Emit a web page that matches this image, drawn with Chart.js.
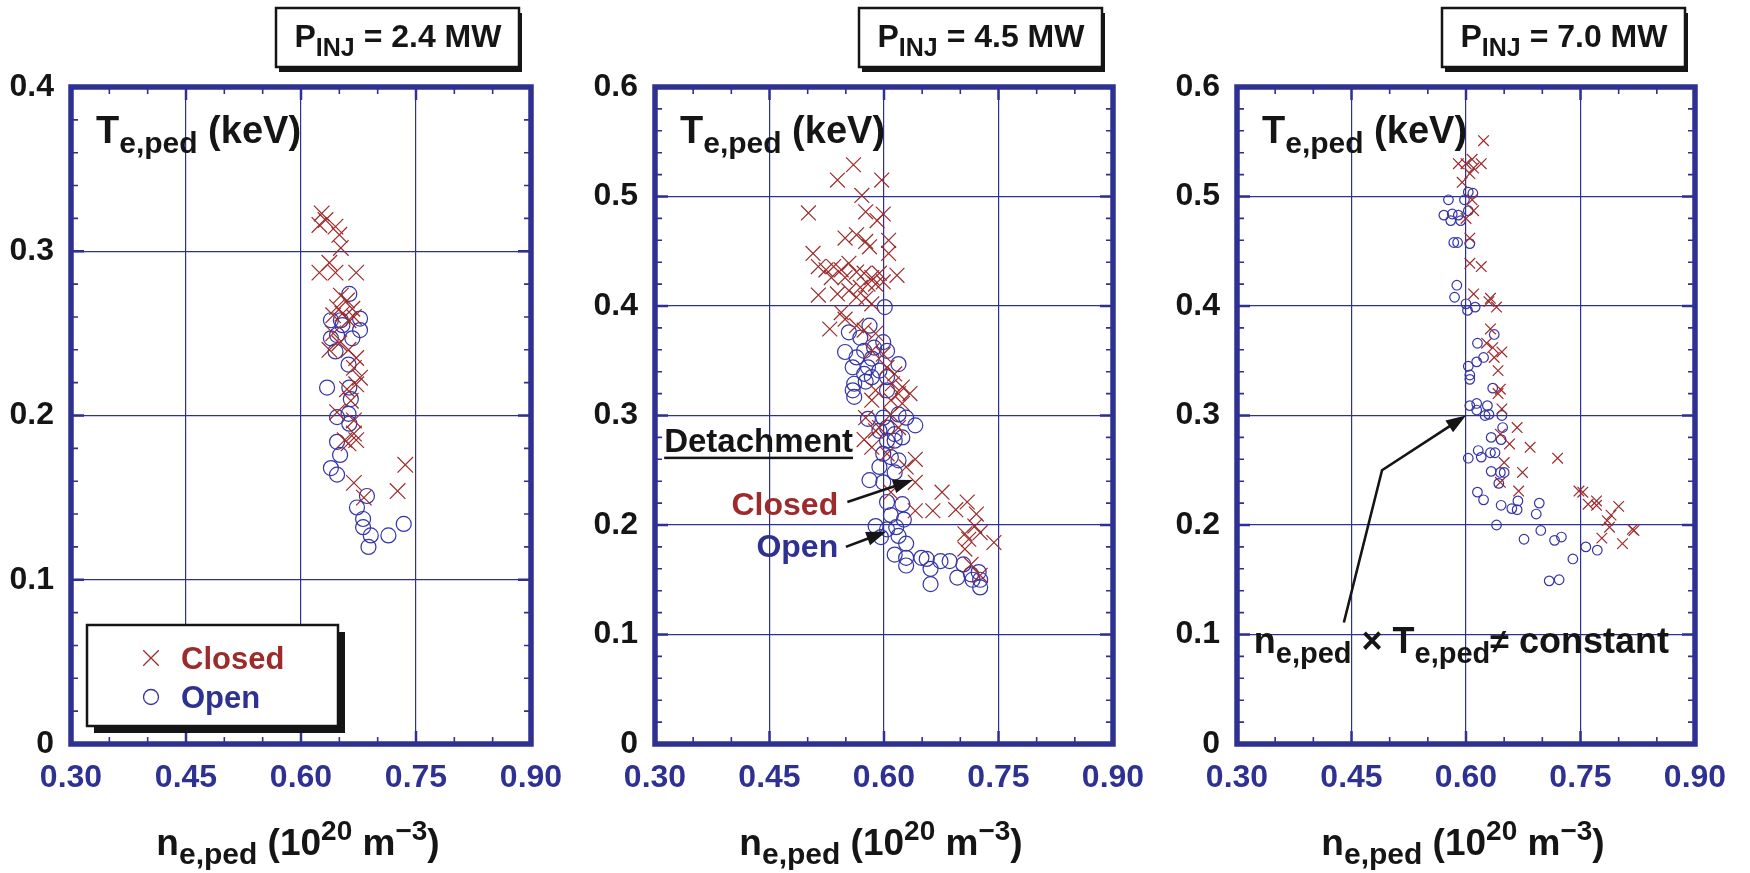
<!DOCTYPE html>
<html>
<head>
<meta charset="utf-8">
<script src="https://cdn.jsdelivr.net/npm/chart.js@4.4.1/dist/chart.umd.min.js"></script>
<style>
  html, body { margin: 0; padding: 0; background: #fff; }
  #wrap { position: relative; width: 1750px; height: 873px; overflow: hidden; }
  canvas { position: absolute; top: 0; }
</style>
</head>
<body>
<div id="wrap">
  <canvas id="c1" width="583" height="873" style="left:0px"></canvas>
  <canvas id="c2" width="583" height="873" style="left:583px"></canvas>
  <canvas id="c3" width="584" height="873" style="left:1166px"></canvas>
</div>
<script>
const FONT = '"Liberation Sans", Arial, Helvetica, sans-serif';
const NAVY = '#2e3192';
const RED = '#9e2b2b';
const BLUE = '#3535a8';
const INK = '#151515';

// injected power of each panel (MW) and y-axis maximum
const powers = ['2.4', '4.5', '7.0'];
const yMaxes = [0.4, 0.6, 0.6];

// [n_e,ped, T_e,ped] pairs
const closed24 = [
    [0.627, 0.323], [0.632, 0.319], [0.624, 0.316], [0.645, 0.315], [0.650, 0.310], [0.652, 0.302],
    [0.637, 0.293], [0.624, 0.287], [0.645, 0.287], [0.672, 0.287], [0.652, 0.273], [0.660, 0.270],
    [0.647, 0.266], [0.667, 0.265], [0.654, 0.262], [0.662, 0.258], [0.642, 0.261], [0.669, 0.260],
    [0.642, 0.250], [0.650, 0.244], [0.637, 0.240], [0.662, 0.240], [0.672, 0.235], [0.669, 0.229],
    [0.677, 0.223], [0.672, 0.219], [0.660, 0.216], [0.665, 0.209], [0.647, 0.202], [0.669, 0.197],
    [0.669, 0.189], [0.662, 0.183], [0.657, 0.185], [0.672, 0.185], [0.669, 0.159], [0.682, 0.150],
    [0.736, 0.170], [0.726, 0.154]
];
const open24 = [
    [0.663, 0.274], [0.677, 0.259], [0.639, 0.258], [0.652, 0.258], [0.654, 0.255], [0.677, 0.252],
    [0.639, 0.247], [0.647, 0.249], [0.667, 0.247], [0.645, 0.239], [0.662, 0.231], [0.634, 0.217],
    [0.663, 0.217], [0.665, 0.210], [0.662, 0.201], [0.647, 0.199], [0.663, 0.195], [0.647, 0.184],
    [0.651, 0.176], [0.639, 0.168], [0.647, 0.164], [0.686, 0.151], [0.673, 0.144], [0.681, 0.137],
    [0.681, 0.132], [0.691, 0.127], [0.688, 0.120], [0.714, 0.127], [0.734, 0.134]
];

const closed45 = [
    [0.560, 0.529], [0.539, 0.515], [0.597, 0.515], [0.501, 0.485], [0.571, 0.501], [0.576, 0.486],
    [0.599, 0.484], [0.591, 0.478], [0.549, 0.462], [0.564, 0.465], [0.576, 0.459], [0.581, 0.454],
    [0.606, 0.460], [0.606, 0.448], [0.507, 0.448], [0.514, 0.436], [0.524, 0.433], [0.534, 0.436],
    [0.544, 0.433], [0.554, 0.439], [0.549, 0.426], [0.531, 0.426], [0.564, 0.431], [0.574, 0.430],
    [0.584, 0.426], [0.594, 0.430], [0.599, 0.422], [0.617, 0.428], [0.579, 0.420], [0.589, 0.420],
    [0.569, 0.417], [0.514, 0.410], [0.539, 0.411], [0.554, 0.414], [0.564, 0.408], [0.584, 0.402],
    [0.576, 0.407], [0.544, 0.394], [0.549, 0.388], [0.529, 0.379], [0.564, 0.382], [0.574, 0.378],
    [0.589, 0.375], [0.584, 0.359], [0.599, 0.356], [0.604, 0.344], [0.614, 0.338], [0.611, 0.329],
    [0.624, 0.326], [0.634, 0.320], [0.619, 0.320], [0.589, 0.323], [0.609, 0.314], [0.624, 0.311],
    [0.584, 0.314], [0.576, 0.298], [0.589, 0.286], [0.609, 0.301], [0.619, 0.289], [0.574, 0.278],
    [0.584, 0.271], [0.594, 0.289], [0.604, 0.265], [0.641, 0.260], [0.629, 0.253], [0.641, 0.239],
    [0.609, 0.230], [0.676, 0.230], [0.641, 0.213], [0.664, 0.213], [0.694, 0.214], [0.709, 0.221],
    [0.721, 0.210], [0.719, 0.199], [0.706, 0.192], [0.711, 0.187], [0.726, 0.193], [0.744, 0.184],
    [0.706, 0.178], [0.714, 0.164], [0.726, 0.154]
];
const open45 = [
    [0.601, 0.399], [0.581, 0.382], [0.554, 0.376], [0.569, 0.371], [0.599, 0.367], [0.549, 0.358],
    [0.574, 0.359], [0.587, 0.362], [0.604, 0.359], [0.564, 0.353], [0.584, 0.352], [0.559, 0.344],
    [0.579, 0.344], [0.594, 0.341], [0.619, 0.347], [0.574, 0.338], [0.584, 0.335], [0.604, 0.335],
    [0.561, 0.329], [0.576, 0.331], [0.559, 0.323], [0.561, 0.317], [0.604, 0.323], [0.579, 0.297],
    [0.599, 0.298], [0.619, 0.301], [0.629, 0.298], [0.641, 0.291], [0.604, 0.289], [0.614, 0.283],
    [0.594, 0.286], [0.624, 0.280], [0.604, 0.277], [0.614, 0.277], [0.599, 0.265], [0.609, 0.262],
    [0.619, 0.259], [0.594, 0.253], [0.614, 0.248], [0.581, 0.241], [0.599, 0.239], [0.604, 0.221],
    [0.624, 0.219], [0.609, 0.209], [0.626, 0.205], [0.589, 0.199], [0.604, 0.196], [0.616, 0.198],
    [0.596, 0.189], [0.619, 0.190], [0.629, 0.183], [0.614, 0.173], [0.629, 0.170], [0.629, 0.163],
    [0.649, 0.170], [0.656, 0.169], [0.661, 0.160], [0.661, 0.146], [0.674, 0.167], [0.686, 0.167],
    [0.704, 0.164], [0.714, 0.155], [0.696, 0.152], [0.724, 0.157], [0.726, 0.150], [0.726, 0.143],
    [0.716, 0.150]
];

const closed70 = [
    [0.623, 0.551], [0.590, 0.530], [0.600, 0.530], [0.608, 0.534], [0.620, 0.530], [0.610, 0.526],
    [0.605, 0.521], [0.595, 0.513], [0.608, 0.497], [0.610, 0.487], [0.600, 0.480], [0.605, 0.462],
    [0.605, 0.439], [0.620, 0.436], [0.610, 0.411], [0.632, 0.407], [0.630, 0.404], [0.640, 0.399],
    [0.632, 0.379], [0.627, 0.366], [0.635, 0.362], [0.647, 0.358], [0.637, 0.353], [0.642, 0.341],
    [0.645, 0.324], [0.642, 0.320], [0.647, 0.306], [0.667, 0.289], [0.645, 0.283], [0.657, 0.274],
    [0.684, 0.271], [0.720, 0.261], [0.650, 0.257], [0.674, 0.248], [0.645, 0.239], [0.669, 0.231],
    [0.748, 0.231], [0.753, 0.230], [0.760, 0.219], [0.771, 0.222], [0.771, 0.218], [0.800, 0.217],
    [0.790, 0.209], [0.785, 0.204], [0.788, 0.198], [0.818, 0.196], [0.820, 0.195], [0.778, 0.188],
    [0.805, 0.183]
];
const open70 = [
    [0.577, 0.497], [0.598, 0.497], [0.603, 0.504], [0.609, 0.503], [0.571, 0.483], [0.582, 0.484],
    [0.590, 0.483], [0.580, 0.478], [0.593, 0.478], [0.603, 0.487], [0.584, 0.458], [0.589, 0.458],
    [0.605, 0.457], [0.588, 0.419], [0.585, 0.408], [0.600, 0.402], [0.602, 0.396], [0.612, 0.399],
    [0.637, 0.374], [0.615, 0.366], [0.623, 0.353], [0.614, 0.349], [0.603, 0.345], [0.605, 0.337],
    [0.605, 0.333], [0.635, 0.325], [0.605, 0.309], [0.614, 0.311], [0.614, 0.305], [0.628, 0.309],
    [0.625, 0.300], [0.630, 0.301], [0.647, 0.300], [0.648, 0.289], [0.633, 0.280], [0.646, 0.278],
    [0.616, 0.268], [0.603, 0.261], [0.620, 0.262], [0.632, 0.266], [0.638, 0.266], [0.633, 0.249],
    [0.645, 0.248], [0.650, 0.248], [0.643, 0.238], [0.615, 0.230], [0.623, 0.223], [0.646, 0.218],
    [0.668, 0.222], [0.660, 0.215], [0.667, 0.214], [0.696, 0.220], [0.692, 0.210], [0.640, 0.200],
    [0.698, 0.195], [0.676, 0.187], [0.716, 0.186], [0.725, 0.189], [0.757, 0.180], [0.772, 0.177],
    [0.740, 0.169], [0.709, 0.149], [0.722, 0.150]
];

const panels = [
    {canvas: 'c1', axisW: 71, padRight: 52, closed: closed24, open: open24, crossR: 11, circleR: 7.5, notes: 'legend'},
    {canvas: 'c2', axisW: 72, padRight: 53, closed: closed45, open: open45, crossR: 10.5, circleR: 7.5, notes: 'detach'},
    {canvas: 'c3', axisW: 71, padRight: 55, closed: closed70, open: open70, crossR: 7.5, circleR: 4.8, notes: 'product'}
];

function font(size) {
    return 'bold ' + size + 'px ' + FONT;
}

// parts: [text, size, dy, color]
function richText(ctx, x, y, parts, align) {
    let w = 0;
    parts.forEach(p => { ctx.font = font(p[1]); w += ctx.measureText(p[0]).width; });
    if (align === 'center') x -= w / 2;
    if (align === 'right') x -= w;
    ctx.textAlign = 'left';
    ctx.textBaseline = 'alphabetic';
    parts.forEach(p => {
        ctx.font = font(p[1]);
        ctx.fillStyle = p[3] || INK;
        ctx.fillText(p[0], x, y + (p[2] || 0));
        x += ctx.measureText(p[0]).width;
    });
    return w;
}

function arrow(ctx, pts) {
    const n = pts.length;
    const [x1, y1] = pts[n - 2], [x2, y2] = pts[n - 1];
    const a = Math.atan2(y2 - y1, x2 - x1);
    const L = 20, W = 7;
    ctx.save();
    ctx.strokeStyle = INK;
    ctx.fillStyle = INK;
    ctx.lineWidth = 2.6;
    ctx.beginPath();
    ctx.moveTo(pts[0][0], pts[0][1]);
    for (let i = 1; i < n - 1; i++) ctx.lineTo(pts[i][0], pts[i][1]);
    ctx.lineTo(x2 - (L - 2) * Math.cos(a), y2 - (L - 2) * Math.sin(a));
    ctx.stroke();
    ctx.beginPath();
    ctx.moveTo(x2, y2);
    ctx.lineTo(x2 - L * Math.cos(a) + W * Math.sin(a), y2 - L * Math.sin(a) - W * Math.cos(a));
    ctx.lineTo(x2 - L * Math.cos(a) - W * Math.sin(a), y2 - L * Math.sin(a) + W * Math.cos(a));
    ctx.closePath();
    ctx.fill();
    ctx.restore();
}

function shadowBox(ctx, x, y, w, h, dx, dy) {
    ctx.fillStyle = INK;
    ctx.fillRect(x + dx, y + dy, w, h);
    ctx.fillStyle = '#fff';
    ctx.fillRect(x, y, w, h);
    ctx.strokeStyle = INK;
    ctx.lineWidth = 2.5;
    ctx.strokeRect(x, y, w, h);
}

function makeDecor(p, idx) {
    return {
        id: 'decor' + idx,
        afterDatasetsDraw(chart) {
            const ctx = chart.ctx;
            const {left, right, top, bottom} = chart.chartArea;
            const xs = chart.scales.x, ys = chart.scales.y;
            const P = (x, y) => [xs.getPixelForValue(x), ys.getPixelForValue(y)];
            ctx.save();

            // inward ticks on all four sides
            ctx.strokeStyle = NAVY;
            xs.ticks.forEach(t => {
                const v = Math.round(t.value * 100);
                if (v === 30 || v === 90) return;
                const major = v % 15 === 0;
                const px = xs.getPixelForValue(t.value);
                const len = major ? 13 : 7;
                ctx.lineWidth = major ? 2.5 : 1.6;
                ctx.beginPath();
                ctx.moveTo(px, bottom); ctx.lineTo(px, bottom - len);
                ctx.moveTo(px, top); ctx.lineTo(px, top + len);
                ctx.stroke();
            });
            ys.ticks.forEach(t => {
                const v = Math.round(t.value * 100);
                if (v === 0 || v === Math.round(ys.max * 100)) return;
                const major = v % 10 === 0;
                const py = ys.getPixelForValue(t.value);
                const len = major ? 13 : 7;
                ctx.lineWidth = major ? 2.5 : 1.6;
                ctx.beginPath();
                ctx.moveTo(left, py); ctx.lineTo(left + len, py);
                ctx.moveTo(right, py); ctx.lineTo(right - len, py);
                ctx.stroke();
            });

            // heavy frame
            ctx.lineWidth = 5.5;
            ctx.strokeRect(left, top, right - left, bottom - top);

            // power label box
            shadowBox(ctx, 276, 8, 243, 59, 3, 5);
            richText(ctx, 398, 47, [['P', 32], ['INJ', 25, 9], [' = ' + powers[idx] + ' MW', 32]], 'center');

            // y title inside the frame
            richText(ctx, left + 25, 143, [['T', 38], ['e,ped', 30, 10], [' (keV)', 38]]);

            // x title
            richText(ctx, (left + right) / 2 - 3, 855,
                [['n', 37], ['e,ped', 30, 9], [' (10', 37], ['20', 28, -15], [' m', 37], ['\u22123', 28, -15], [')', 37]], 'center');

            if (p.notes === 'legend') {
                shadowBox(ctx, 87, 625, 251, 101, 7, 7);
                ctx.lineWidth = 1.3;
                ctx.strokeStyle = RED;
                const cx = 151, cy = 658, h = p.crossR * Math.SQRT1_2;
                ctx.beginPath();
                ctx.moveTo(cx - h, cy - h); ctx.lineTo(cx + h, cy + h);
                ctx.moveTo(cx + h, cy - h); ctx.lineTo(cx - h, cy + h);
                ctx.stroke();
                ctx.strokeStyle = BLUE;
                ctx.beginPath();
                ctx.arc(151, 697, p.circleR, 0, Math.PI * 2);
                ctx.stroke();
                richText(ctx, 181, 669, [['Closed', 31, 0, RED]]);
                richText(ctx, 181, 708, [['Open', 31, 0, NAVY]]);
            } else if (p.notes === 'detach') {
                const d = P(0.312, 0.267);
                const w = richText(ctx, d[0], d[1], [['Detachment', 33]]);
                ctx.fillStyle = INK;
                ctx.fillRect(d[0], d[1] + 5, w, 2.5);
                const c = P(0.540, 0.209);
                richText(ctx, c[0], c[1], [['Closed', 32, 0, RED]], 'right');
                const o = P(0.540, 0.171);
                richText(ctx, o[0], o[1], [['Open', 32, 0, NAVY]], 'right');
                arrow(ctx, [P(0.552, 0.221), P(0.638, 0.241)]);
                arrow(ctx, [P(0.550, 0.180), P(0.603, 0.194)]);
            } else if (p.notes === 'product') {
                arrow(ctx, [P(0.440, 0.111), P(0.490, 0.250), P(0.600, 0.300)]);
                const t = P(0.322, 0.083);
                richText(ctx, t[0], t[1], [['n', 36], ['e,ped', 29, 10], [' \u00d7 ', 36], ['T', 36], ['e,ped', 29, 10], ['\u2260', 34], [' constant', 36]]);
            }
            ctx.restore();
        }
    };
}

panels.forEach((p, idx) => {
    const yMax = yMaxes[idx];
    new Chart(document.getElementById(p.canvas), {
        type: 'scatter',
        data: {
            datasets: [
                {
                    label: 'Closed',
                    data: p.closed.map(d => ({x: d[0], y: d[1]})),
                    pointStyle: 'crossRot',
                    pointRadius: p.crossR,
                    pointHoverRadius: p.crossR,
                    pointBorderColor: RED,
                    pointBackgroundColor: 'transparent',
                    pointBorderWidth: 1.2
                },
                {
                    label: 'Open',
                    data: p.open.map(d => ({x: d[0], y: d[1]})),
                    pointStyle: 'circle',
                    pointRadius: p.circleR,
                    pointHoverRadius: p.circleR,
                    pointBorderColor: BLUE,
                    pointBackgroundColor: 'transparent',
                    pointBorderWidth: 1.2
                }
            ]
        },
        options: {
            responsive: false,
            animation: false,
            events: [],
            layout: {padding: {left: 0, right: p.padRight, top: 87, bottom: 0}},
            plugins: {legend: {display: false}, tooltip: {enabled: false}, title: {display: false}},
            scales: {
                x: {
                    type: 'linear',
                    min: 0.3,
                    max: 0.9,
                    border: {display: false},
                    grid: {
                        drawTicks: false,
                        lineWidth: 1.2,
                        color: (c) => {
                            const v = Math.round(c.tick.value * 100);
                            return (v % 15 === 0 && v !== 30 && v !== 90) ? NAVY : 'transparent';
                        }
                    },
                    ticks: {
                        stepSize: 0.05,
                        autoSkip: false,
                        maxRotation: 0,
                        padding: 15,
                        color: NAVY,
                        font: {family: FONT, size: 32, weight: 'bold'},
                        callback: (v) => Math.round(v * 100) % 15 === 0 ? v.toFixed(2) : ''
                    },
                    afterFit: (s) => {
                        s.height = 129;
                        s.paddingLeft = 0;
                        s.paddingRight = 0;
                    }
                },
                y: {
                    type: 'linear',
                    min: 0,
                    max: yMax,
                    border: {display: false},
                    grid: {
                        drawTicks: false,
                        lineWidth: 1.2,
                        color: (c) => {
                            const v = Math.round(c.tick.value * 100);
                            return (v % 10 === 0 && v !== 0 && v !== Math.round(yMax * 100)) ? NAVY : 'transparent';
                        }
                    },
                    ticks: {
                        stepSize: 0.02,
                        autoSkip: false,
                        padding: 17,
                        color: INK,
                        font: {family: FONT, size: 32, weight: 'bold'},
                        callback: (v) => {
                            const r = Math.round(v * 100);
                            if (r % 10 !== 0) return '';
                            return r === 0 ? '0' : v.toFixed(1);
                        }
                    },
                    afterFit: (s) => {
                        s.width = p.axisW;
                        s.paddingTop = 0;
                        s.paddingBottom = 0;
                    }
                }
            }
        },
        plugins: [makeDecor(p, idx)]
    });
});
</script>
</body>
</html>
